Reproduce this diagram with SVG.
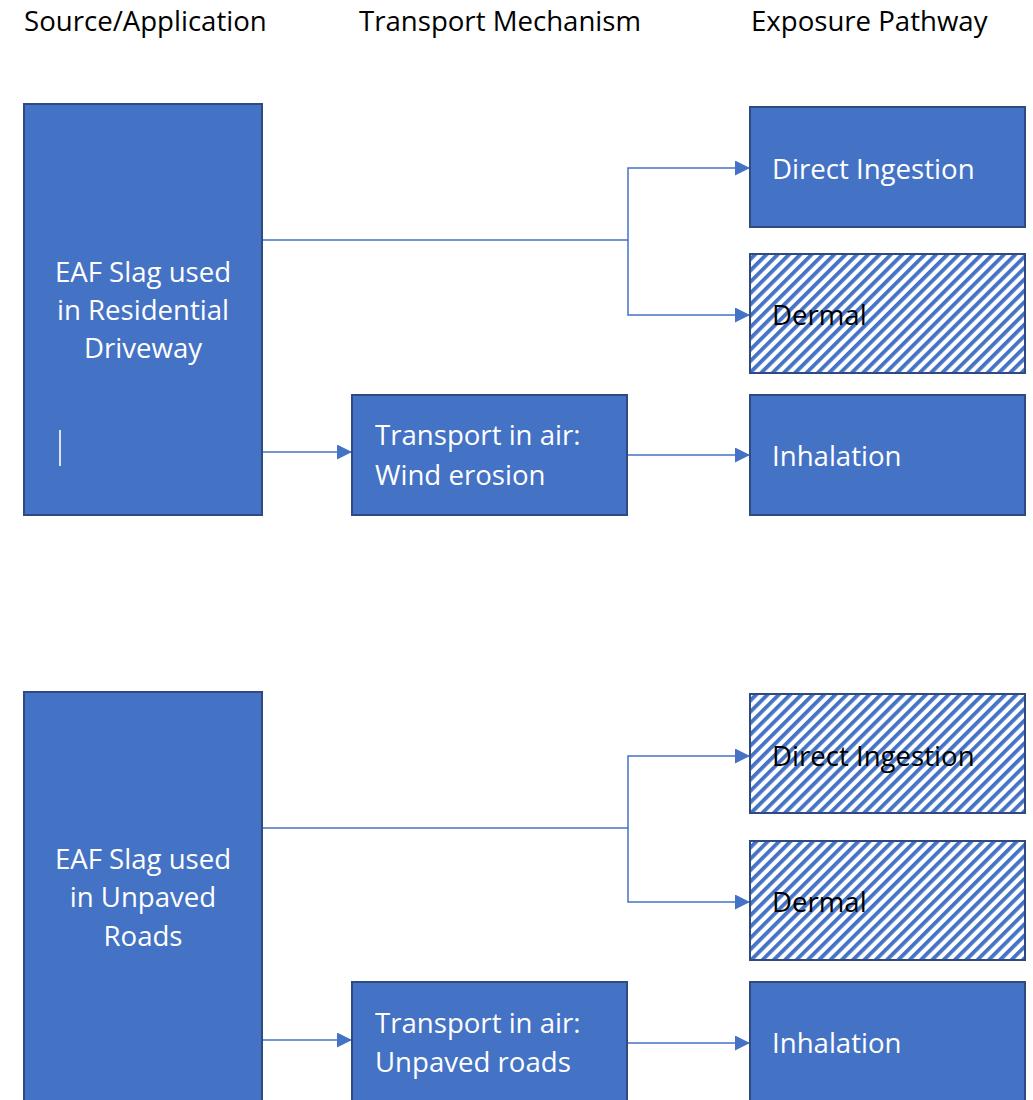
<svg xmlns="http://www.w3.org/2000/svg" width="1033" height="1100" viewBox="0 0 1033 1100">
  <style>
    .box { fill: #4472C4; stroke: #2F4A80; stroke-width: 2; }
    .hatch { fill: url(#hatch); stroke: #2F4A80; stroke-width: 2; }
    .hdr { font-family: "Open Sans", "Liberation Sans", sans-serif; font-size: 27.6px; fill: #000; }
    .lbl { font-family: "Open Sans", "Liberation Sans", sans-serif; font-size: 27.6px; fill: #fff; }
    .lblc { font-family: "Open Sans", "Liberation Sans", sans-serif; font-size: 27.6px; fill: #fff; text-anchor: middle; }
    .lbld { font-family: "Open Sans", "Liberation Sans", sans-serif; font-size: 27.6px; fill: #000; }
    .conn { fill: none; stroke: #4472C4; stroke-width: 1.5; }
  </style>
  <defs>
    <pattern id="hatch" patternUnits="userSpaceOnUse" width="8" height="8" patternTransform="rotate(45)">
      <rect x="0" y="0" width="8" height="8" fill="#fff"/>
      <rect x="0" y="0" width="3.8" height="8" fill="#4472C4"/>
    </pattern>
    <marker id="arr" viewBox="0 0 10 10" refX="10" refY="5" markerUnits="userSpaceOnUse" markerWidth="15" markerHeight="15" orient="auto">
      <path d="M0,0 L10,5 L0,10 Z" fill="#4472C4"/>
    </marker>
  </defs>

  <g id="headers">
    <text class="hdr" x="24" y="31">Source/Application</text>
    <text class="hdr" x="359" y="31">Transport Mechanism</text>
    <text class="hdr" x="751" y="31">Exposure Pathway</text>
  </g>

  <g id="connectors">
    <path class="conn" d="M262,240 H628 V168 H750" marker-end="url(#arr)"/>
    <path class="conn" d="M628,240 V315 H750" marker-end="url(#arr)"/>
    <path class="conn" d="M262,452 H352" marker-end="url(#arr)"/>
    <path class="conn" d="M627,455 H750" marker-end="url(#arr)"/>
    <path class="conn" d="M262,828 H628 V756 H750" marker-end="url(#arr)"/>
    <path class="conn" d="M628,828 V902 H750" marker-end="url(#arr)"/>
    <path class="conn" d="M262,1040 H352" marker-end="url(#arr)"/>
    <path class="conn" d="M627,1043 H750" marker-end="url(#arr)"/>
  </g>

  <g id="source1">
    <rect class="box" x="24" y="104" width="238" height="411"/>
    <text class="lblc" x="143" y="282">EAF Slag used</text>
    <text class="lblc" x="143" y="320">in Residential</text>
    <text class="lblc" x="143" y="358">Driveway</text>
    <line x1="60" y1="430" x2="60" y2="466" stroke="#DCE3F2" stroke-width="2"/>
  </g>

  <g id="transport1">
    <rect class="box" x="352" y="395" width="275" height="120"/>
    <text class="lbl" x="375" y="445">Transport in air:</text>
    <text class="lbl" x="375" y="485">Wind erosion</text>
  </g>

  <g id="ingestion1">
    <rect class="box" x="750" y="107" width="275" height="120"/>
    <text class="lbl" x="772" y="179">Direct Ingestion</text>
  </g>

  <g id="dermal1">
    <rect class="hatch" x="750" y="254" width="275" height="119"/>
    <text class="lbld" x="772" y="325">Dermal</text>
  </g>

  <g id="inhalation1">
    <rect class="box" x="750" y="395" width="275" height="120"/>
    <text class="lbl" x="772" y="466">Inhalation</text>
  </g>

  <g id="source2">
    <rect class="box" x="24" y="692" width="238" height="420"/>
    <text class="lblc" x="143" y="869">EAF Slag used</text>
    <text class="lblc" x="143" y="907">in Unpaved</text>
    <text class="lblc" x="143" y="946">Roads</text>
  </g>

  <g id="transport2">
    <rect class="box" x="352" y="982" width="275" height="130"/>
    <text class="lbl" x="375" y="1033">Transport in air:</text>
    <text class="lbl" x="375" y="1072">Unpaved roads</text>
  </g>

  <g id="ingestion2">
    <rect class="hatch" x="750" y="694" width="275" height="119"/>
    <text class="lbld" x="772" y="766">Direct Ingestion</text>
  </g>

  <g id="dermal2">
    <rect class="hatch" x="750" y="841" width="275" height="119"/>
    <text class="lbld" x="772" y="912">Dermal</text>
  </g>

  <g id="inhalation2">
    <rect class="box" x="750" y="982" width="275" height="130"/>
    <text class="lbl" x="772" y="1053">Inhalation</text>
  </g>
</svg>
